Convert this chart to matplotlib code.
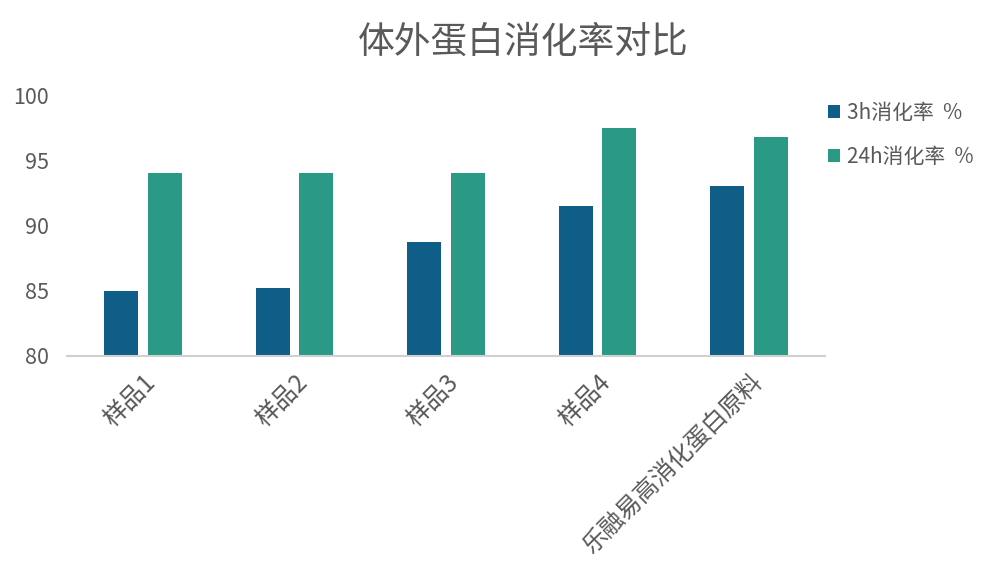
import numpy as np
import matplotlib
matplotlib.use('Agg')
import matplotlib.pyplot as plt

plt.rcParams['font.family'] = ['Noto Sans CJK SC', 'DejaVu Sans']

# data
samples = ['样品1', '样品2', '样品3', '样品4', '乐融易高消化蛋白原料']
rate_3h = [85.0, 85.2, 88.7, 91.5, 93.0]
rate_24h = [94.0, 94.0, 94.0, 97.5, 96.8]
series_names = ['3h消化率  %', '24h消化率  %']

c_3h = '#0E5E88'
c_24h = '#2A9A86'
txt = '#595959'

fig = plt.figure(figsize=(9.97, 5.64), dpi=100)
ax = fig.add_axes([67 / 997, 1 - 356 / 564, (825 - 67) / 997, (356 - 95) / 564])

x = np.arange(len(samples))
w = 0.224
off = 0.144
ax.bar(x - off, rate_3h, width=w, color=c_3h, label=series_names[0], zorder=2)
ax.bar(x + off, rate_24h, width=w, color=c_24h, label=series_names[1], zorder=2)

ax.set_ylim(80, 100)
ax.set_xlim(-0.5, len(samples) - 0.5)
ax.set_yticks([80, 85, 90, 95, 100])
ax.set_xticks(x)
ax.set_xticklabels(samples, rotation=45, ha='right', rotation_mode='anchor',
                   fontsize=17.5, color=txt)
ax.tick_params(axis='y', length=0, labelsize=15.5, labelcolor=txt, pad=13)
ax.tick_params(axis='x', length=0, pad=10)

for s in ['top', 'right', 'left']:
    ax.spines[s].set_visible(False)
ax.spines['bottom'].set_color('#d0d0d0')
ax.spines['bottom'].set_linewidth(1.5)

fig.text(523 / 997, 1 - 42 / 564, '体外蛋白消化率对比', ha='center', va='center',
         fontsize=26.5, color=txt)

fig.legend(loc='upper left', bbox_to_anchor=(809 / 997, 1 - 83 / 564),
           frameon=False, fontsize=15, labelcolor=txt, handlelength=0.6,
           handleheight=0.6, handletextpad=0.3, labelspacing=1.05)

fig.savefig('out.png', dpi=100)
